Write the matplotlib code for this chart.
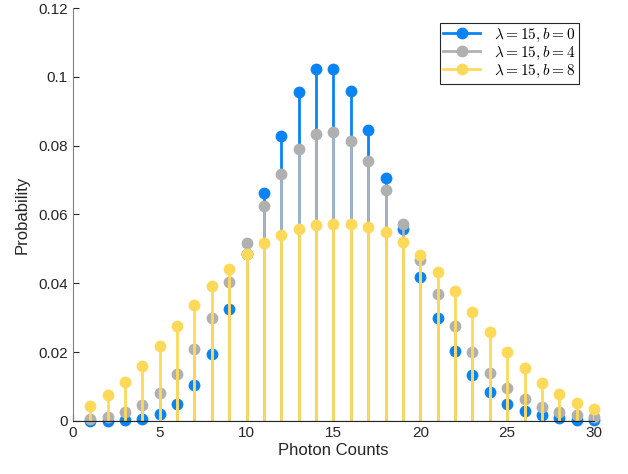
import matplotlib
matplotlib.use("Agg")
import matplotlib.pyplot as plt
from matplotlib.lines import Line2D

# photon count values k = 1..30
counts = list(range(1, 31))

# lambda = 15, b = 0
p_b0 = [0.0000, 0.0000, 0.0002, 0.0006, 0.0019, 0.0048, 0.0104, 0.0194, 0.0324, 0.0486,
        0.0663, 0.0829, 0.0956, 0.1024, 0.1024, 0.0960, 0.0847, 0.0706, 0.0557, 0.0418,
        0.0299, 0.0204, 0.0133, 0.0083, 0.0050, 0.0029, 0.0016, 0.0009, 0.0004, 0.0002]
# lambda = 15, b = 4
p_b4 = [0.0006, 0.0012, 0.0025, 0.0046, 0.0082, 0.0135, 0.0208, 0.0299, 0.0404, 0.0517,
        0.0624, 0.0719, 0.0791, 0.0833, 0.0841, 0.0814, 0.0755, 0.0672, 0.0573, 0.0469,
        0.0368, 0.0276, 0.0201, 0.0140, 0.0097, 0.0063, 0.0041, 0.0026, 0.0017, 0.0011]
# lambda = 15, b = 8
p_b8 = [0.0043, 0.0075, 0.0113, 0.0161, 0.0217, 0.0276, 0.0338, 0.0393, 0.0441, 0.0484,
        0.0517, 0.0541, 0.0557, 0.0569, 0.0573, 0.0572, 0.0563, 0.0548, 0.0519, 0.0481,
        0.0433, 0.0377, 0.0317, 0.0257, 0.0200, 0.0153, 0.0110, 0.0078, 0.0053, 0.0035]

labels = [r"$\lambda = 15, b = 0$", r"$\lambda = 15, b = 4$", r"$\lambda = 15, b = 8$"]
colors = ["#0A84F5", "#B0B0B0", "#FDD95A"]
stem_colors = ["#0A84F5", "#A7B3C2", "#FDD95A"]

plt.rcParams["font.family"] = ["Liberation Sans", "DejaVu Sans"]
plt.rcParams["mathtext.fontset"] = "cm"

fig = plt.figure(figsize=(6.28, 4.74), dpi=100)
ax = fig.add_axes([0.116, 0.112, 0.830, 0.871])

handles = []
for vals, c, sc, lab in zip([p_b0, p_b4, p_b8], colors, stem_colors, labels):
    ml, sl, bl = ax.stem(counts, vals, basefmt=" ")
    plt.setp(sl, color=sc, linewidth=2.0)
    plt.setp(ml, color=c, markersize=8.5, markeredgewidth=0, clip_on=False)
    handles.append(Line2D([0], [0], color=c, linewidth=2.0, marker="o",
                          markersize=8.5, markeredgewidth=0, label=lab))

ax.axhline(0, color="#262626", linewidth=0.8, zorder=5)

ax.set_xlim(0, 30)
ax.set_ylim(0, 0.12)
ax.set_xticks([0, 5, 10, 15, 20, 25, 30])
ax.set_yticks([0, 0.02, 0.04, 0.06, 0.08, 0.1, 0.12])
ax.set_yticklabels(["0", "0.02", "0.04", "0.06", "0.08", "0.1", "0.12"])
ax.tick_params(direction="in", length=4, labelsize=11, colors="#262626", width=0.8)
for s in ("top", "right"):
    ax.spines[s].set_visible(False)
ax.spines["left"].set_color("#808080")
ax.spines["bottom"].set_color("#262626")
for s in ("left", "bottom"):
    ax.spines[s].set_linewidth(0.8)

ax.set_xlabel("Photon Counts", fontsize=12, color="#262626", labelpad=2)
ax.set_ylabel("Probability", fontsize=12, color="#262626", labelpad=6)

leg = ax.legend(handles=handles, loc="upper right", bbox_to_anchor=(0.971, 0.964),
                borderaxespad=0, fontsize=11, fancybox=False, framealpha=1,
                edgecolor="#262626", handlelength=2.4, borderpad=0.25,
                labelspacing=0.05, handletextpad=0.9)
leg.get_frame().set_linewidth(0.8)

fig.savefig("out.png", dpi=100, facecolor="white")
